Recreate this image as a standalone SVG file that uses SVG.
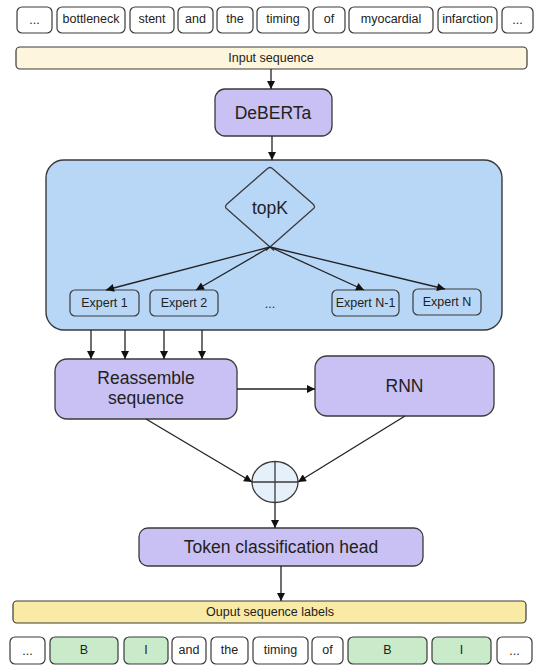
<svg xmlns="http://www.w3.org/2000/svg" width="538" height="666" viewBox="0 0 538 666">
<defs>
<style>
.tok{fill:#fff;stroke:#3a3a3a;stroke-width:1.2}
.grn{fill:#c9ebc9;stroke:#3a3a3a;stroke-width:1.2}
.t12{font-family:"Liberation Sans",Arial,sans-serif;font-size:12.5px;fill:#222;text-anchor:middle;dominant-baseline:central}
.t17{font-family:"Liberation Sans",Arial,sans-serif;font-size:17.5px;fill:#222;text-anchor:middle;dominant-baseline:central}
.pur{fill:#c9c0f3;stroke:#3a3a3a;stroke-width:1.3}
.exp{fill:#b8d7f7;stroke:#3a3a3a;stroke-width:1.2}
.ln{stroke:#222;stroke-width:1.3;fill:none;marker-end:url(#ah)}
</style>
<marker id="ah" viewBox="0 0 10 10" refX="10" refY="5" markerWidth="9" markerHeight="8" markerUnits="userSpaceOnUse" orient="auto"><path d="M0,0 L10,5 L0,10 z" fill="#111"/></marker>
</defs>
<rect width="538" height="666" fill="#fff"/>

<g id="input-tokens">
<rect class="tok" x="17" y="7" width="35" height="26" rx="5"/><text class="t12" x="34.5" y="20" font-size="9">...</text>
<rect class="tok" x="57" y="7" width="68" height="26" rx="5"/><text class="t12" x="91" y="19">bottleneck</text>
<rect class="tok" x="130" y="7" width="44" height="26" rx="5"/><text class="t12" x="152" y="19">stent</text>
<rect class="tok" x="178" y="7" width="35" height="26" rx="5"/><text class="t12" x="195.5" y="19">and</text>
<rect class="tok" x="217" y="7" width="36" height="26" rx="5"/><text class="t12" x="235" y="19">the</text>
<rect class="tok" x="257" y="7" width="52" height="26" rx="5"/><text class="t12" x="283" y="19">timing</text>
<rect class="tok" x="313" y="7" width="32" height="26" rx="5"/><text class="t12" x="329" y="19">of</text>
<rect class="tok" x="349" y="7" width="84" height="26" rx="5"/><text class="t12" x="391" y="19">myocardial</text>
<rect class="tok" x="438" y="7" width="59" height="26" rx="5"/><text class="t12" x="467.5" y="19">infarction</text>
<rect class="tok" x="502" y="7" width="31" height="26" rx="5"/><text class="t12" x="517.5" y="20" font-size="9">...</text>
</g>

<g id="input-sequence">
<rect x="16" y="47" width="511" height="22" rx="4" fill="#fdf5dc" stroke="#3a3a3a" stroke-width="1.2"/>
<text class="t12" x="271" y="57.5">Input sequence</text>
</g>

<g id="deberta">
<rect class="pur" x="215" y="89" width="117" height="47" rx="10"/>
<text class="t17" x="273" y="113" font-size="18">DeBERTa</text>
</g>

<g id="moe-container">
<rect x="46" y="160" width="456" height="170" rx="18" fill="#b8d7f7" stroke="#3a3a3a" stroke-width="1.4"/>
</g>

<g id="topk">
<path d="M270,247 L227,209 Q224,207 227,204 L267,169 Q270,166 273,169 L313,204 Q316,207 313,209 Z" fill="#b8d7f7" stroke="none"/>
<path d="M274,250.5 L227,209 Q224,207 227,204 L267,169 Q270,166 273,169 L313,204 Q316,207 313,209 L266,250.5" fill="none" stroke="#3a3a3a" stroke-width="1.3"/>
<text class="t17" x="270" y="208" font-size="16.5">topK</text>
</g>

<g id="expert-1"><rect class="exp" x="70" y="290" width="69" height="26" rx="5"/><text class="t12" x="104.5" y="303" font-size="12">Expert 1</text></g>
<g id="expert-2"><rect class="exp" x="150" y="290" width="68" height="26" rx="5"/><text class="t12" x="184" y="303" font-size="12">Expert 2</text></g>
<text class="t12" x="270" y="304" font-size="14">...</text>
<g id="expert-n-1"><rect class="exp" x="332" y="290" width="67" height="26" rx="5"/><text class="t12" x="365.5" y="303" font-size="12">Expert N-1</text></g>
<g id="expert-n"><rect class="exp" x="413" y="289" width="68" height="26" rx="5"/><text class="t12" x="447" y="302" font-size="12">Expert N</text></g>

<g id="reassemble">
<rect class="pur" x="55" y="359" width="182" height="60" rx="12"/>
<text class="t17" x="146" y="378">Reassemble</text>
<text class="t17" x="146" y="398">sequence</text>
</g>

<g id="rnn">
<rect class="pur" x="315" y="356" width="179" height="60" rx="12"/>
<text class="t17" x="404.5" y="386">RNN</text>
</g>

<g id="sum">
<ellipse cx="275" cy="482" rx="23" ry="20.5" fill="#e6f0fb" stroke="#3a3a3a" stroke-width="1.3"/>
<line x1="252" y1="482" x2="298" y2="482" stroke="#3a3a3a" stroke-width="1.3"/>
<line x1="275" y1="461.5" x2="275" y2="502.5" stroke="#3a3a3a" stroke-width="1.3"/>
</g>

<g id="token-head">
<rect class="pur" x="139" y="528" width="284" height="38" rx="9"/>
<text class="t17" x="281" y="547">Token classification head</text>
</g>

<g id="output-sequence">
<rect x="13" y="601" width="513" height="22" rx="4" fill="#f9eaa6" stroke="#3a3a3a" stroke-width="1.2"/>
<text class="t12" x="270" y="612">Ouput sequence labels</text>
</g>

<g id="output-tokens">
<rect class="tok" x="10" y="637" width="35" height="27" rx="5"/><text class="t12" x="27.5" y="651" font-size="9">...</text>
<rect class="grn" x="50" y="637" width="68" height="27" rx="5"/><text class="t12" x="84" y="650">B</text>
<rect class="grn" x="124" y="637" width="44" height="27" rx="5"/><text class="t12" x="146" y="650">I</text>
<rect class="tok" x="172" y="637" width="34" height="27" rx="5"/><text class="t12" x="189" y="650">and</text>
<rect class="tok" x="211" y="637" width="37" height="27" rx="5"/><text class="t12" x="229.5" y="650">the</text>
<rect class="tok" x="253" y="637" width="55" height="27" rx="5"/><text class="t12" x="280.5" y="650">timing</text>
<rect class="tok" x="312" y="637" width="31" height="27" rx="5"/><text class="t12" x="327.5" y="650">of</text>
<rect class="grn" x="348" y="637" width="79" height="27" rx="5"/><text class="t12" x="387.5" y="650">B</text>
<rect class="grn" x="432" y="637" width="59" height="27" rx="5"/><text class="t12" x="461.5" y="650">I</text>
<rect class="tok" x="497" y="637" width="35" height="27" rx="5"/><text class="t12" x="514.5" y="651" font-size="9">...</text>
</g>

<g id="connectors">
<line class="ln" x1="271" y1="69" x2="271" y2="89"/>
<line class="ln" x1="272" y1="136" x2="272" y2="160"/>
<line class="ln" x1="270" y1="247" x2="106" y2="290"/>
<line class="ln" x1="270" y1="247" x2="196" y2="290"/>
<line class="ln" x1="270" y1="247" x2="364" y2="290"/>
<line class="ln" x1="270" y1="247" x2="445" y2="289"/>
<line class="ln" x1="91" y1="330" x2="91" y2="359"/>
<line class="ln" x1="125" y1="330" x2="125" y2="359"/>
<line class="ln" x1="164" y1="330" x2="164" y2="359"/>
<line class="ln" x1="202" y1="330" x2="202" y2="359"/>
<line class="ln" x1="237" y1="389" x2="315" y2="389"/>
<line class="ln" x1="146" y1="419" x2="252" y2="482"/>
<line class="ln" x1="405" y1="416" x2="298" y2="482"/>
<line class="ln" x1="275" y1="503" x2="275" y2="528"/>
<line class="ln" x1="281" y1="566" x2="281" y2="601"/>
</g>
</svg>
